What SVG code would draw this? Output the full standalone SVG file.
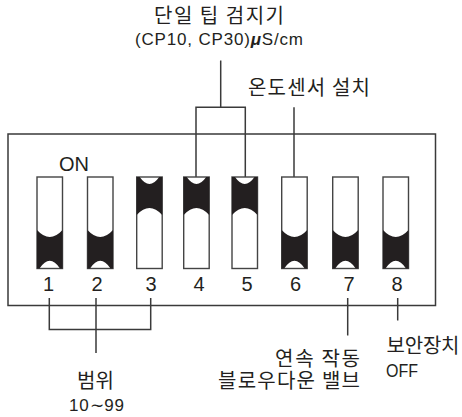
<svg xmlns="http://www.w3.org/2000/svg" width="462" height="417" viewBox="0 0 462 417">
<defs>
<style>
.ln{fill:none;stroke:#3a3a3a;stroke-width:1.5}
.box{fill:#fff;stroke:#444;stroke-width:1.4}
.blk{fill:#231f20}
.n{font-family:"Liberation Sans",Arial,sans-serif;font-size:20px;fill:#231f20;text-anchor:middle}
.k{font-family:"Noto Sans CJK KR","Noto Sans",sans-serif;font-size:20px;fill:#231f20}
.s{font-family:"Liberation Sans",Arial,sans-serif;font-size:17px;fill:#231f20}
</style>
<g id="down"><rect class="box" x="0" y="0" width="25.5" height="91.5"/><path class="blk" d="M0 53Q12.750 67 25.500 53V91.500H23Q12.750 76 2.500 91.500H0Z"/></g>
<g id="up"><rect class="box" x="0" y="0" width="25.500" height="91.500"/><path class="blk" d="M0 0H25.500V38Q12.750 24 0 38ZM3 0Q12.750 14 22.500 0Z" fill-rule="evenodd"/></g>
</defs>
<g id="frame"><rect class="ln" x="8" y="134" width="427.500" height="171.500"/></g>
<g id="connectors">
<path class="ln" d="M220.700 60.500V107.300M196 177V107.300H245.300V177"/>
<path class="ln" d="M294 107.300V177"/>
<path class="ln" d="M49.300 298V329.500H150.700V298M96 298V353"/>
<path class="ln" d="M347.700 298V335.500"/>
<path class="ln" d="M397.700 298V320.500"/>
</g>
<g id="sw1"><use href="#down" x="37" y="177"/><text class="n" x="48.500" y="291">1</text></g>
<g id="sw2"><use href="#down" x="87.500" y="177"/><text class="n" x="97" y="291">2</text></g>
<g id="sw3"><use href="#up" x="136.700" y="177"/><text class="n" x="151" y="291">3</text></g>
<g id="sw4"><use href="#up" x="183.700" y="177"/><text class="n" x="199" y="291">4</text></g>
<g id="sw5"><use href="#up" x="232" y="177"/><text class="n" x="247" y="291">5</text></g>
<g id="sw6"><use href="#down" x="281.700" y="177"/><text class="n" x="295.500" y="291">6</text></g>
<g id="sw7"><use href="#down" x="332.700" y="177"/><text class="n" x="349" y="291">7</text></g>
<g id="sw8"><use href="#down" x="383" y="177"/><text class="n" x="397" y="291">8</text></g>
<g id="on"><text class="n" x="74" y="171">ON</text></g>
<g id="lbl-tip">
<text class="k" x="154" y="23" textLength="130" lengthAdjust="spacing">단일 팁 검지기</text>
<text class="s" x="135" y="45" textLength="168" lengthAdjust="spacing">(CP10, CP30)<tspan font-weight="bold" font-style="italic">μ</tspan>S/cm</text>
</g>
<g id="lbl-temp"><text class="k" x="248" y="95" textLength="122" lengthAdjust="spacing">온도센서 설치</text></g>
<g id="lbl-range">
<text class="k" x="77" y="388" textLength="37" lengthAdjust="spacing">범위</text>
<text class="s" x="69" y="411" textLength="55" lengthAdjust="spacing">10∼99</text>
</g>
<g id="lbl-blow">
<text class="k" x="275" y="366" textLength="85" lengthAdjust="spacing">연속 작동</text>
<text class="k" x="218" y="388" textLength="142" lengthAdjust="spacing">블로우다운 밸브</text>
</g>
<g id="lbl-safe">
<text class="k" x="386.500" y="353" textLength="73" lengthAdjust="spacing">보안장치</text>
<text class="s" x="386" y="376.500" font-size="18" style="font-size:18px" textLength="32" lengthAdjust="spacingAndGlyphs">OFF</text>
</g>
</svg>
